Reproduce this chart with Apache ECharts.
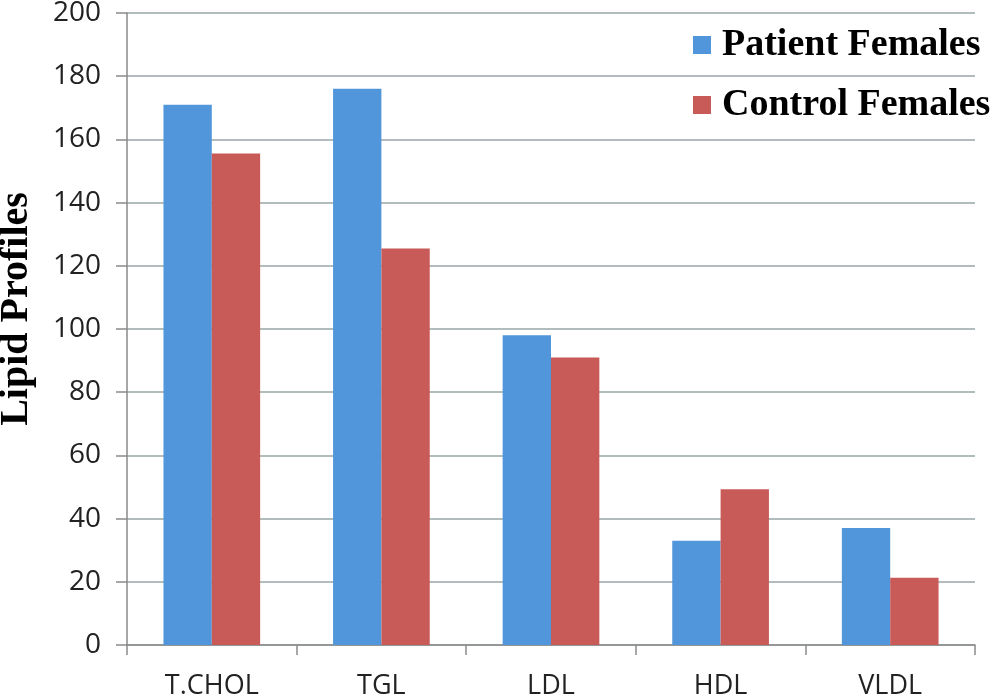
<!DOCTYPE html>
<html><head><meta charset="utf-8">
<script src="https://cdn.jsdelivr.net/npm/echarts@6/dist/echarts.min.js"></script>
<style>html,body{margin:0;padding:0;background:#fff}#c{width:1008px;height:697px}</style>
</head><body><div id="c"></div>
<script>
var categories = ['T.CHOL', 'TGL', 'LDL', 'HDL', 'VLDL'];
var patientFemales = [171, 176, 98, 33, 37];
var controlFemales = [155.5, 125.5, 91, 49.3, 21.3];
var yTicks = {min: 0, max: 200, interval: 20};

var chart = echarts.init(document.getElementById('c'));
chart.setOption({
  animation: false,
  backgroundColor: '#fff',
  grid: {left: 127, right: 33, top: 13, bottom: 52, containLabel: false, outerBoundsMode: 'none'},
  legend: {
    orient: 'vertical', left: 688, top: 21, itemGap: 22,
    itemWidth: 18, itemHeight: 18, icon: 'rect',
    textStyle: {fontFamily: 'Liberation Serif', fontWeight: 'bold', fontSize: 38, color: '#000', padding: [0,0,0,6]},
    data: ['Patient Females', 'Control Females']
  },
  xAxis: {
    type: 'category', data: categories,
    axisLine: {lineStyle: {color: '#8a8a8a', width: 1.5}},
    axisTick: {show: true, length: 10, lineStyle: {color: '#8a8a8a', width: 1.5}},
    axisLabel: {fontFamily: 'Open Sans', fontSize: 27, color: '#222', margin: 28}
  },
  yAxis: {
    type: 'value', min: yTicks.min, max: yTicks.max, interval: yTicks.interval,
    name: 'Lipid Profiles', nameLocation: 'middle', nameGap: 90,
    nameTextStyle: {fontFamily: 'Liberation Serif', fontWeight: 'bold', fontSize: 40, color: '#000', padding: [0,0,0,40]},
    axisLine: {show: true, lineStyle: {color: '#8a8a8a', width: 1.5}},
    axisTick: {show: true, length: 11, lineStyle: {color: '#8a8a8a', width: 1.5}},
    axisLabel: {fontFamily: 'Open Sans', fontSize: 28, color: '#222', margin: 26},
    splitLine: {lineStyle: {color: '#98a6a6', width: 1.5}}
  },
  series: [
    {name: 'Patient Females', type: 'bar', data: patientFemales, barGap: '0%', barCategoryGap: '43%',
     itemStyle: {color: '#5196DA'}},
    {name: 'Control Females', type: 'bar', data: controlFemales,
     itemStyle: {color: '#C85B57'}}
  ]
});
</script></body></html>
